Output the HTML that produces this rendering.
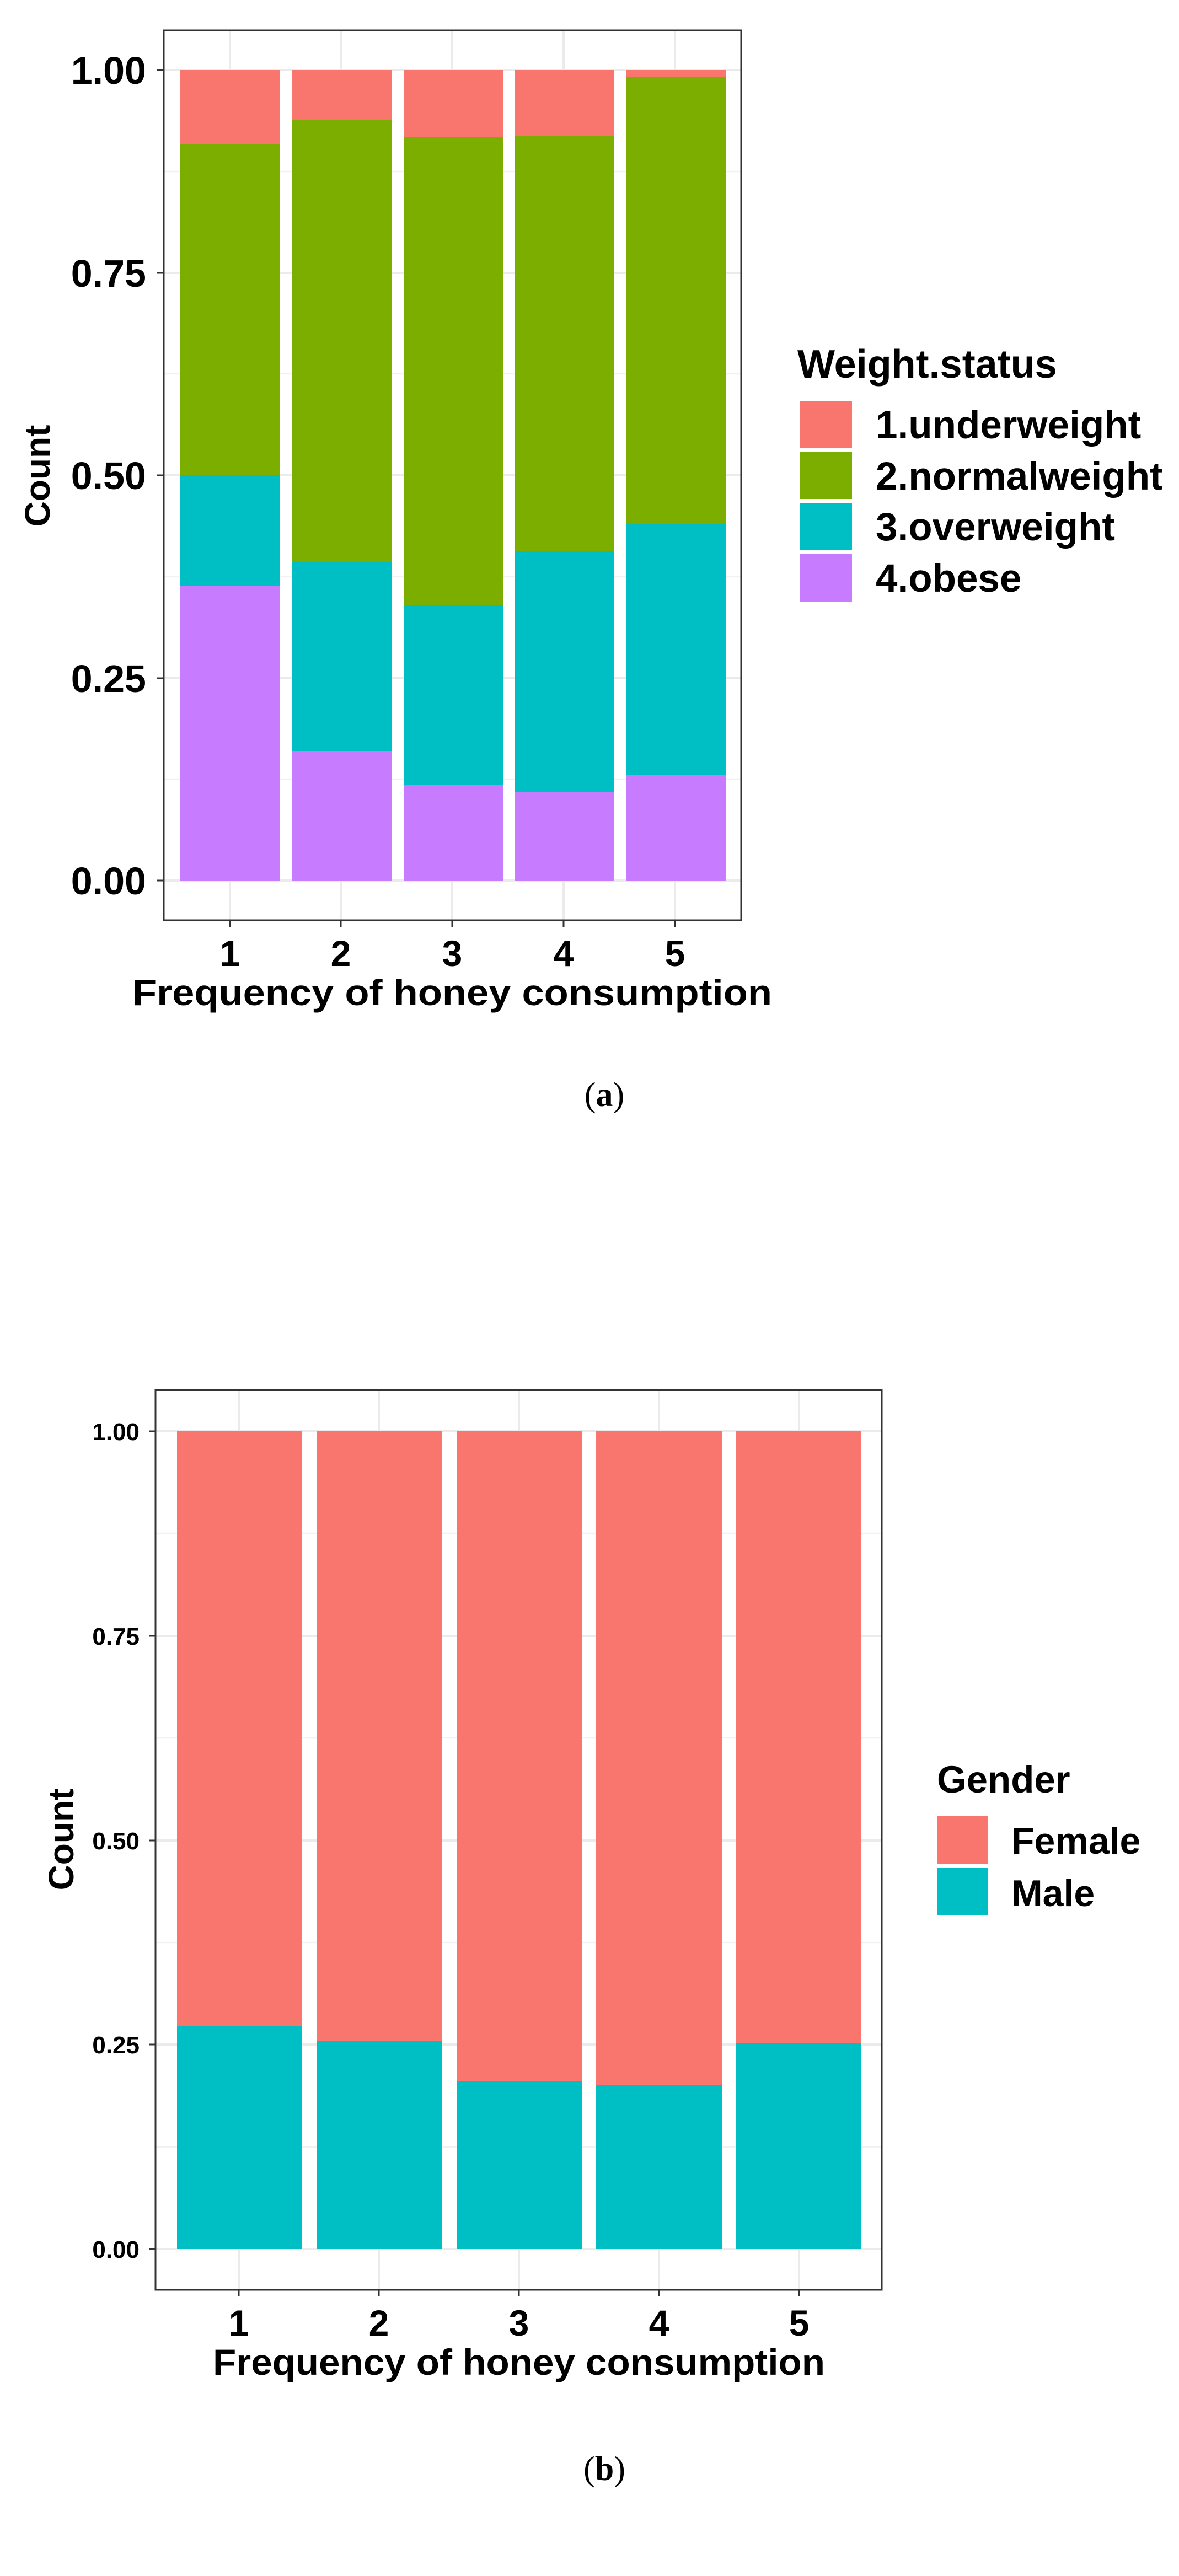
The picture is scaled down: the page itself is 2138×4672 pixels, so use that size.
<!DOCTYPE html>
<html><head><style>
html,body{margin:0;padding:0;background:#fff;}
svg{display:block;}
text{font-family:"Liberation Sans",Arial,sans-serif;font-weight:bold;fill:#000;}
.cap{font-family:"Liberation Serif",serif;font-weight:normal;}
.g{stroke:#ebebeb;stroke-width:4;}
.gm{stroke:#f2f2f2;stroke-width:2.5;}
</style></head><body>
<svg width="2138" height="4672" viewBox="0 0 2138 4672" xmlns="http://www.w3.org/2000/svg">
<rect width="2138" height="4672" fill="#fff"/>
<g>
<line class="gm" x1="297" x2="1344" y1="1413" y2="1413"/>
<line class="gm" x1="297" x2="1344" y1="1046" y2="1046"/>
<line class="gm" x1="297" x2="1344" y1="678" y2="678"/>
<line class="gm" x1="297" x2="1344" y1="311" y2="311"/>
<line class="g" x1="297" x2="1344" y1="1597" y2="1597"/>
<line class="g" x1="297" x2="1344" y1="1230" y2="1230"/>
<line class="g" x1="297" x2="1344" y1="862" y2="862"/>
<line class="g" x1="297" x2="1344" y1="495" y2="495"/>
<line class="g" x1="297" x2="1344" y1="127" y2="127"/>
<line class="g" x1="417" x2="417" y1="55" y2="1669"/>
<line class="g" x1="618" x2="618" y1="55" y2="1669"/>
<line class="g" x1="820" x2="820" y1="55" y2="1669"/>
<line class="g" x1="1022" x2="1022" y1="55" y2="1669"/>
<line class="g" x1="1224" x2="1224" y1="55" y2="1669"/>
<rect x="326" y="127" width="181" height="134" fill="#F8766D"/>
<rect x="326" y="261" width="181" height="601" fill="#7CAE00"/>
<rect x="326" y="862" width="181" height="201" fill="#00BFC4"/>
<rect x="326" y="1063" width="181" height="534" fill="#C77CFF"/>
<rect x="529" y="127" width="181" height="91" fill="#F8766D"/>
<rect x="529" y="218" width="181" height="801" fill="#7CAE00"/>
<rect x="529" y="1019" width="181" height="343" fill="#00BFC4"/>
<rect x="529" y="1362" width="181" height="235" fill="#C77CFF"/>
<rect x="732" y="127" width="181" height="121" fill="#F8766D"/>
<rect x="732" y="248" width="181" height="849" fill="#7CAE00"/>
<rect x="732" y="1097" width="181" height="327" fill="#00BFC4"/>
<rect x="732" y="1424" width="181" height="173" fill="#C77CFF"/>
<rect x="933" y="127" width="181" height="119" fill="#F8766D"/>
<rect x="933" y="246" width="181" height="754" fill="#7CAE00"/>
<rect x="933" y="1000" width="181" height="437" fill="#00BFC4"/>
<rect x="933" y="1437" width="181" height="160" fill="#C77CFF"/>
<rect x="1135" y="127" width="181" height="12" fill="#F8766D"/>
<rect x="1135" y="139" width="181" height="811" fill="#7CAE00"/>
<rect x="1135" y="950" width="181" height="456" fill="#00BFC4"/>
<rect x="1135" y="1406" width="181" height="191" fill="#C77CFF"/>
<rect x="297" y="55" width="1047" height="1614" fill="none" stroke="#333" stroke-width="3"/>
<g stroke="#333" stroke-width="3">
<line x1="285" x2="297" y1="1597" y2="1597"/><line x1="285" x2="297" y1="1230" y2="1230"/><line x1="285" x2="297" y1="862" y2="862"/><line x1="285" x2="297" y1="495" y2="495"/><line x1="285" x2="297" y1="127" y2="127"/>
<line x1="417" x2="417" y1="1669" y2="1681"/><line x1="618" x2="618" y1="1669" y2="1681"/><line x1="820" x2="820" y1="1669" y2="1681"/><line x1="1022" x2="1022" y1="1669" y2="1681"/><line x1="1224" x2="1224" y1="1669" y2="1681"/>
</g>
<g font-size="70" text-anchor="end">
<text x="265" y="1622">0.00</text><text x="265" y="1255">0.25</text><text x="265" y="887">0.50</text><text x="265" y="520">0.75</text><text x="265" y="152">1.00</text>
</g>
<g font-size="66" text-anchor="middle">
<text x="417" y="1752">1</text><text x="618" y="1752">2</text><text x="820" y="1752">3</text><text x="1022" y="1752">4</text><text x="1224" y="1752">5</text>
</g>
<text x="820" y="1823" font-size="66" text-anchor="middle" textLength="1160" lengthAdjust="spacingAndGlyphs">Frequency of honey consumption</text>
<text transform="translate(90,863) rotate(-90)" font-size="64" text-anchor="middle">Count</text>
<text x="1446" y="685" font-size="72">Weight.status</text>
<rect x="1450" y="727" width="95" height="86" fill="#F8766D"/>
<rect x="1450" y="819" width="95" height="86" fill="#7CAE00"/>
<rect x="1450" y="912" width="95" height="86" fill="#00BFC4"/>
<rect x="1450" y="1005" width="95" height="86" fill="#C77CFF"/>
<g font-size="71">
<text x="1588" y="795">1.underweight</text>
<text x="1588" y="888">2.normalweight</text>
<text x="1588" y="980">3.overweight</text>
<text x="1588" y="1073">4.obese</text>
</g>
<text class="cap" x="1096" y="2006" font-size="62" text-anchor="middle">(<tspan font-weight="bold">a</tspan>)</text>
</g>
<g>
<line class="gm" x1="282" x2="1599" y1="3894" y2="3894"/>
<line class="gm" x1="282" x2="1599" y1="3523" y2="3523"/>
<line class="gm" x1="282" x2="1599" y1="3152" y2="3152"/>
<line class="gm" x1="282" x2="1599" y1="2781" y2="2781"/>
<line class="g" x1="282" x2="1599" y1="4079" y2="4079"/>
<line class="g" x1="282" x2="1599" y1="3708" y2="3708"/>
<line class="g" x1="282" x2="1599" y1="3338" y2="3338"/>
<line class="g" x1="282" x2="1599" y1="2967" y2="2967"/>
<line class="g" x1="282" x2="1599" y1="2596" y2="2596"/>
<line class="g" x1="433" x2="433" y1="2521" y2="4153"/>
<line class="g" x1="687" x2="687" y1="2521" y2="4153"/>
<line class="g" x1="941" x2="941" y1="2521" y2="4153"/>
<line class="g" x1="1195" x2="1195" y1="2521" y2="4153"/>
<line class="g" x1="1449" x2="1449" y1="2521" y2="4153"/>
<rect x="321" y="2596" width="227" height="1079" fill="#F8766D"/>
<rect x="321" y="3675" width="227" height="404" fill="#00BFC4"/>
<rect x="574" y="2596" width="228" height="1105" fill="#F8766D"/>
<rect x="574" y="3701" width="228" height="378" fill="#00BFC4"/>
<rect x="828" y="2596" width="227" height="1179" fill="#F8766D"/>
<rect x="828" y="3775" width="227" height="304" fill="#00BFC4"/>
<rect x="1080" y="2596" width="229" height="1185" fill="#F8766D"/>
<rect x="1080" y="3781" width="229" height="298" fill="#00BFC4"/>
<rect x="1335" y="2596" width="227" height="1109" fill="#F8766D"/>
<rect x="1335" y="3705" width="227" height="374" fill="#00BFC4"/>
<rect x="282" y="2521" width="1317" height="1632" fill="none" stroke="#333" stroke-width="3"/>
<g stroke="#333" stroke-width="3">
<line x1="270" x2="282" y1="4079" y2="4079"/><line x1="270" x2="282" y1="3708" y2="3708"/><line x1="270" x2="282" y1="3338" y2="3338"/><line x1="270" x2="282" y1="2967" y2="2967"/><line x1="270" x2="282" y1="2596" y2="2596"/>
<line x1="433" x2="433" y1="4153" y2="4165"/><line x1="687" x2="687" y1="4153" y2="4165"/><line x1="941" x2="941" y1="4153" y2="4165"/><line x1="1195" x2="1195" y1="4153" y2="4165"/><line x1="1449" x2="1449" y1="4153" y2="4165"/>
</g>
<g font-size="44" text-anchor="end">
<text x="253" y="4095">0.00</text><text x="253" y="3724">0.25</text><text x="253" y="3354">0.50</text><text x="253" y="2983">0.75</text><text x="253" y="2612">1.00</text>
</g>
<g font-size="66" text-anchor="middle">
<text x="433" y="4236">1</text><text x="687" y="4236">2</text><text x="941" y="4236">3</text><text x="1195" y="4236">4</text><text x="1449" y="4236">5</text>
</g>
<text x="941" y="4307" font-size="66" text-anchor="middle" textLength="1110" lengthAdjust="spacingAndGlyphs">Frequency of honey consumption</text>
<text transform="translate(133,3336) rotate(-90)" font-size="64" text-anchor="middle">Count</text>
<text x="1699" y="3251" font-size="69">Gender</text>
<rect x="1699" y="3294" width="92" height="86" fill="#F8766D"/>
<rect x="1699" y="3388" width="92" height="86" fill="#00BFC4"/>
<g font-size="68">
<text x="1834" y="3362">Female</text>
<text x="1834" y="3457">Male</text>
</g>
<text class="cap" x="1096" y="4498" font-size="62" text-anchor="middle">(<tspan font-weight="bold">b</tspan>)</text>
</g>
</svg>
</body></html>
